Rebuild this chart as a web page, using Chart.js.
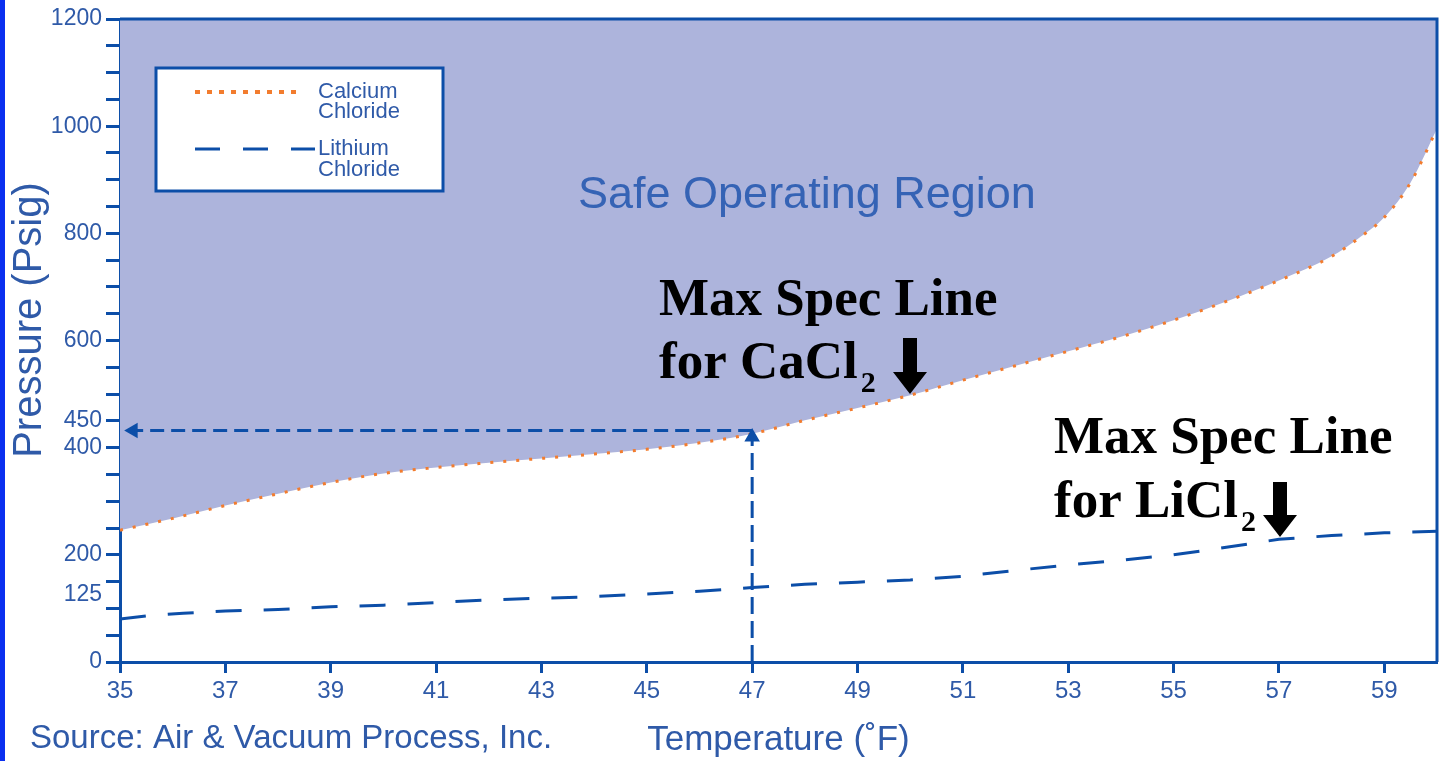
<!DOCTYPE html>
<html>
<head>
<meta charset="utf-8">
<script src="https://cdn.jsdelivr.net/npm/chart.js@4.4.1/dist/chart.umd.min.js"></script>
<style>
html, body { margin: 0; padding: 0; background: #fff; }
#wrap { position: relative; width: 1439px; height: 761px; }
#strip { position: absolute; left: 0; top: 0; width: 5px; height: 761px; background: #0a2ff0; }
</style>
</head>
<body>
<div id="wrap">
  <canvas id="chart" width="1439" height="761"></canvas>
  <div id="strip"></div>
</div>
<script>
// values
const caclTemp = [35, 36, 37, 38, 39, 40, 41, 42, 43, 44, 45, 46, 47, 48, 49, 50, 51, 52, 53, 54, 55, 56, 57, 58, 58.5, 59, 59.5, 60];
const caclPsig = [246, 268, 292, 314, 335, 352, 363, 372, 380, 388, 397, 409, 426, 451, 474, 498, 526, 553, 580, 607, 638, 673, 712, 757, 790, 830, 895, 995];

const liclTemp = [35, 35.5, 36.2, 37, 38, 39, 40, 41, 42, 43, 44, 45, 46, 47, 48, 49, 50, 51, 52, 53, 54, 55, 56, 57, 58, 59, 60];
const liclPsig = [80, 86, 91, 95, 98, 103, 106, 111, 116, 119, 122, 127, 132, 139, 145, 149, 153, 160, 171, 181, 190, 200, 214, 229, 236, 241, 244];

const specTemp = 47;
const specPsig = 432;

const xTicks = [35, 37, 39, 41, 43, 45, 47, 49, 51, 53, 55, 57, 59];
const yTickMarks = [0, 50, 100, 125, 150, 200, 250, 300, 350, 400, 450, 500, 550, 600, 650, 700, 750, 800, 850, 900, 950, 1000, 1050, 1100, 1150, 1200];
const yLabels = [0, 125, 200, 400, 450, 600, 800, 1000, 1200];

const axisBlue = "#0c4ea8";
const textBlue = "#2f5aa8";
const orange = "#f27c2e";
const safeFill = "#adb4dc";

function pts(xs, ys) {
    return xs.map((x, i) => ({ x: x, y: ys[i] }));
}

// texts, legend box, frame
const decor = {
    id: "decor",
    afterDraw(chart) {
        const ctx = chart.ctx;
        const a = chart.chartArea;
        ctx.save();

        // top / right frame
        ctx.strokeStyle = axisBlue;
        ctx.lineWidth = 3;
        ctx.beginPath();
        ctx.moveTo(a.left, a.top);
        ctx.lineTo(a.right, a.top);
        ctx.lineTo(a.right, a.bottom);
        ctx.stroke();

        // legend box
        ctx.fillStyle = "#fff";
        ctx.fillRect(156, 68, 287, 123);
        ctx.strokeRect(156, 68, 287, 123);

        ctx.lineWidth = 4;
        ctx.strokeStyle = orange;
        ctx.setLineDash([5, 7]);
        ctx.beginPath();
        ctx.moveTo(195, 92);
        ctx.lineTo(300, 92);
        ctx.stroke();

        ctx.lineWidth = 3;
        ctx.strokeStyle = axisBlue;
        ctx.setLineDash([25, 23]);
        ctx.beginPath();
        ctx.moveTo(195, 149);
        ctx.lineTo(315, 149);
        ctx.stroke();
        ctx.setLineDash([]);

        ctx.fillStyle = textBlue;
        ctx.font = "22px 'Liberation Sans'";
        ctx.textBaseline = "middle";
        ctx.fillText("Calcium", 318, 92);
        ctx.fillText("Chloride", 318, 112);
        ctx.fillText("Lithium", 318, 149);
        ctx.fillText("Chloride", 318, 170);

        // region label
        ctx.textBaseline = "alphabetic";
        ctx.fillStyle = "#3563b5";
        ctx.font = "45px 'Liberation Sans'";
        ctx.fillText("Safe Operating Region", 578, 208);

        // spec labels
        drawSpec(ctx, 659, 315, 378, "for CaCl", 910, 338, 394);
        drawSpec(ctx, 1054, 453, 517, "for LiCl", 1280, 482, 537);

        // source
        ctx.fillStyle = textBlue;
        ctx.font = "33px 'Liberation Sans'";
        ctx.fillText("Source: Air & Vacuum Process, Inc.", 30, 748);

        // y title
        ctx.translate(30, 320);
        ctx.rotate(-Math.PI / 2);
        ctx.textAlign = "center";
        ctx.textBaseline = "middle";
        ctx.font = "40px 'Liberation Sans'";
        ctx.fillText("Pressure (Psig)", 0, 0);

        ctx.restore();
    }
};

function drawSpec(ctx, x, y1, y2, line2, ax, atop, atip) {
    ctx.fillStyle = "#000";
    ctx.font = "bold 53px 'Liberation Serif'";
    ctx.fillText("Max Spec Line", x, y1);
    ctx.fillText(line2, x, y2);
    const w = ctx.measureText(line2).width;
    ctx.font = "bold 30px 'Liberation Serif'";
    ctx.fillText("2", x + w + 3, y2 + 14);

    // down arrow
    ctx.beginPath();
    ctx.moveTo(ax - 7, atop);
    ctx.lineTo(ax + 7, atop);
    ctx.lineTo(ax + 7, atip - 22);
    ctx.lineTo(ax + 17, atip - 22);
    ctx.lineTo(ax, atip);
    ctx.lineTo(ax - 17, atip - 22);
    ctx.lineTo(ax - 7, atip - 22);
    ctx.closePath();
    ctx.fill();
}

const chartCanvas = document.getElementById("chart");

const pressureChart = new Chart(chartCanvas, {
    type: "line",
    data: {
        datasets: [
            {
                label: "Calcium Chloride",
                data: pts(caclTemp, caclPsig),
                borderColor: orange,
                borderWidth: 3,
                borderDash: [3, 10],
                backgroundColor: safeFill,
                fill: "end",
                cubicInterpolationMode: "monotone",
                pointRadius: 0,
                order: 10,
            },
            {
                label: "Lithium Chloride",
                data: pts(liclTemp, liclPsig),
                borderColor: axisBlue,
                borderWidth: 3,
                borderDash: [26, 22],
                fill: false,
                pointRadius: 0,
                order: 1,
            },
            {
                label: "spec h",
                data: [{ x: specTemp, y: specPsig }, { x: 35.25, y: specPsig }],
                borderColor: axisBlue,
                borderWidth: 3,
                borderDash: [14, 7],
                fill: false,
                pointRadius: [0, 6],
                pointStyle: "triangle",
                rotation: -90,
                pointBackgroundColor: axisBlue,
                pointBorderColor: axisBlue,
                order: 0,
            },
            {
                label: "spec v",
                data: [{ x: specTemp, y: 0 }, { x: specTemp, y: specPsig - 12 }],
                borderColor: axisBlue,
                borderWidth: 3,
                borderDash: [17, 7],
                fill: false,
                pointRadius: [0, 6],
                pointStyle: "triangle",
                rotation: 0,
                pointBackgroundColor: axisBlue,
                pointBorderColor: axisBlue,
                order: 0,
            },
        ],
    },
    options: {
        responsive: false,
        animation: false,
        events: [],
        layout: { autoPadding: false, padding: { top: 19, right: 2, left: 0, bottom: 0 } },
        plugins: {
            legend: { display: false },
            tooltip: { enabled: false },
        },
        scales: {
            x: {
                type: "linear",
                min: 35,
                max: 60,
                afterBuildTicks: (s) => { s.ticks = xTicks.map((v) => ({ value: v })); },
                afterFit: (s) => {
                    s.height = 99;
                    s.paddingLeft = 0;
                    s.paddingRight = 0;
                },
                border: { color: axisBlue, width: 3 },
                grid: { drawOnChartArea: false, tickLength: 11, tickWidth: 3, tickColor: axisBlue },
                ticks: {
                    autoSkip: false,
                    maxRotation: 0,
                    padding: 4,
                    color: textBlue,
                    font: { family: "'Liberation Sans'", size: 24 },
                },
                title: {
                    display: true,
                    text: "Temperature (˚F)",
                    color: textBlue,
                    font: { family: "'Liberation Sans'", size: 35 },
                    padding: 0,
                },
            },
            y: {
                type: "linear",
                min: 0,
                max: 1200,
                afterBuildTicks: (s) => { s.ticks = yTickMarks.map((v) => ({ value: v })); },
                afterFit: (s) => { s.width = 120; },
                border: { color: axisBlue, width: 3 },
                grid: {
                    drawOnChartArea: false,
                    tickLength: 14,
                    tickWidth: 3,
                    tickColor: (c) => (c.tick && c.tick.value === 125 ? "rgba(0,0,0,0)" : axisBlue),
                },
                ticks: {
                    autoSkip: false,
                    padding: 4,
                    color: textBlue,
                    font: { family: "'Liberation Sans'", size: 23 },
                    callback: (v) => (yLabels.includes(v) ? String(v) : ""),
                },
            },
        },
    },
    plugins: [decor],
});
</script>
</body>
</html>
